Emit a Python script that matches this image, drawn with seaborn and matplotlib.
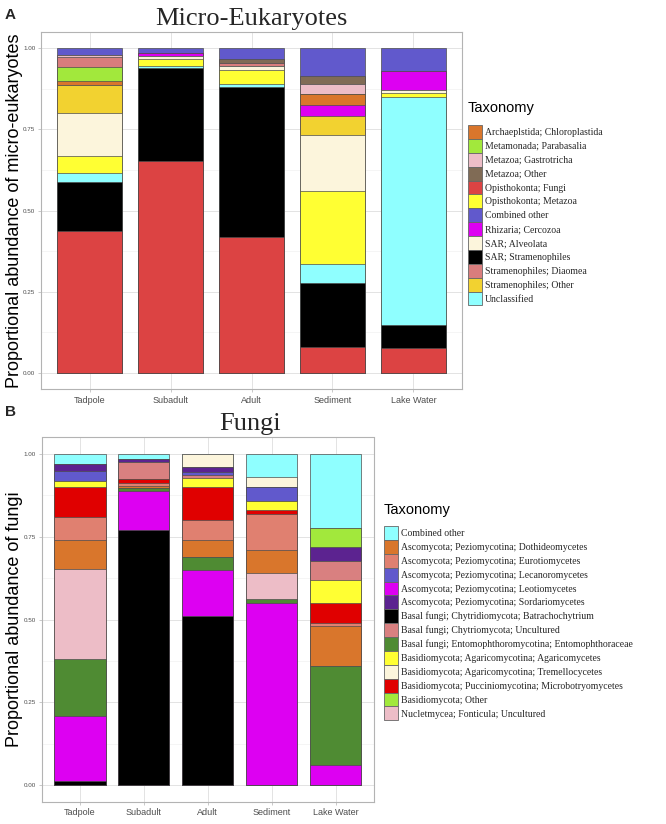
import matplotlib
matplotlib.use('Agg')
import matplotlib.pyplot as plt
from matplotlib.patches import Patch
import seaborn as sns

SAMPLES=['Tadpole','Subadult','Adult','Sediment','Lake Water']

# ---- micro-eukaryotes, one list per taxon (Tadpole..Lake Water) ----
EUK_FUNGI=[0.437,0.652,0.420,0.081,0.076]
EUK_SAR_STRAM=[0.152,0.288,0.459,0.197,0.071]
EUK_UNCLASSIFIED=[0.025,0.005,0.010,0.056,0.703]
EUK_OPI_METAZOA=[0.053,0.020,0.044,0.227,0.012]
EUK_ALVEOLATA=[0.133,0.010,0.013,0.171,0.009]
EUK_STRAM_OTHER=[0.085,0.0,0.0,0.060,0.0]
EUK_RHIZARIA=[0.0,0.011,0.0,0.034,0.058]
EUK_ARCHAEPL=[0.012,0.0,0.0,0.033,0.0]
EUK_METAMONADA=[0.046,0.0,0.0,0.0,0.0]
EUK_DIAOMEA=[0.030,0.0,0.009,0.0,0.0]
EUK_GASTROTRICHA=[0.006,0.0,0.0,0.030,0.0]
EUK_METAZOA_OTHER=[0.0,0.0,0.010,0.026,0.0]
EUK_COMBINED=[0.021,0.014,0.035,0.085,0.071]

# ---- fungi ----
FUN_BATRACHO=[0.012,0.770,0.512,0.0,0.0]
FUN_LEOTIO=[0.197,0.119,0.138,0.549,0.060]
FUN_ENTOMO=[0.172,0.007,0.040,0.012,0.300]
FUN_NUCLET=[0.271,0.0,0.0,0.079,0.0]
FUN_DOTHIDEO=[0.089,0.008,0.051,0.070,0.121]
FUN_EUROTIO=[0.070,0.008,0.059,0.109,0.009]
FUN_MICROBOT=[0.088,0.014,0.100,0.012,0.059]
FUN_AGARICO=[0.020,0.0,0.029,0.028,0.070]
FUN_CHYTRIO=[0.0,0.050,0.009,0.0,0.059]
FUN_LECANORO=[0.031,0.0,0.008,0.040,0.0]
FUN_SORDARIO=[0.020,0.010,0.014,0.0,0.042]
FUN_BASID_OTHER=[0.0,0.0,0.0,0.0,0.058]
FUN_TREMELLO=[0.0,0.0,0.040,0.031,0.0]
FUN_COMBINED=[0.030,0.014,0.0,0.070,0.222]

EUK_LEGEND=['Archaeplstida; Chloroplastida','Metamonada; Parabasalia','Metazoa; Gastrotricha',
            'Metazoa; Other','Opisthokonta; Fungi','Opisthokonta; Metazoa','Combined other',
            'Rhizaria; Cercozoa','SAR; Alveolata','SAR; Stramenophiles','Stramenophiles; Diaomea',
            'Stramenophiles; Other','Unclassified']
FUN_LEGEND=['Combined other','Ascomycota; Peziomycotina; Dothideomycetes',
            'Ascomycota; Peziomycotina; Eurotiomycetes','Ascomycota; Peziomycotina; Lecanoromycetes',
            'Ascomycota; Peziomycotina; Leotiomycetes','Ascomycota; Peziomycotina; Sordariomycetes',
            'Basal fungi; Chytridiomycota; Batrachochytrium','Basal fungi; Chytriomycota; Uncultured',
            'Basal fungi; Entomophthoromycotina; Entomophthoraceae',
            'Basidiomycota; Agaricomycotina; Agaricomycetes','Basidiomycota; Agaricomycotina; Tremellocycetes',
            'Basidiomycota; Pucciniomycotina; Microbotryomycetes','Basidiomycota; Other',
            'Nucletmycea; Fonticula; Uncultured']

EUK_STACK=[('Opisthokonta; Fungi',EUK_FUNGI),('SAR; Stramenophiles',EUK_SAR_STRAM),
           ('Unclassified',EUK_UNCLASSIFIED),('Opisthokonta; Metazoa',EUK_OPI_METAZOA),
           ('SAR; Alveolata',EUK_ALVEOLATA),('Stramenophiles; Other',EUK_STRAM_OTHER),
           ('Rhizaria; Cercozoa',EUK_RHIZARIA),('Archaeplstida; Chloroplastida',EUK_ARCHAEPL),
           ('Metamonada; Parabasalia',EUK_METAMONADA),('Stramenophiles; Diaomea',EUK_DIAOMEA),
           ('Metazoa; Gastrotricha',EUK_GASTROTRICHA),('Metazoa; Other',EUK_METAZOA_OTHER),
           ('Combined other',EUK_COMBINED)]
FUN_STACK=[('Basal fungi; Chytridiomycota; Batrachochytrium',FUN_BATRACHO),
           ('Ascomycota; Peziomycotina; Leotiomycetes',FUN_LEOTIO),
           ('Basal fungi; Entomophthoromycotina; Entomophthoraceae',FUN_ENTOMO),
           ('Nucletmycea; Fonticula; Uncultured',FUN_NUCLET),
           ('Ascomycota; Peziomycotina; Dothideomycetes',FUN_DOTHIDEO),
           ('Ascomycota; Peziomycotina; Eurotiomycetes',FUN_EUROTIO),
           ('Basidiomycota; Pucciniomycotina; Microbotryomycetes',FUN_MICROBOT),
           ('Basidiomycota; Agaricomycotina; Agaricomycetes',FUN_AGARICO),
           ('Basal fungi; Chytriomycota; Uncultured',FUN_CHYTRIO),
           ('Ascomycota; Peziomycotina; Lecanoromycetes',FUN_LECANORO),
           ('Ascomycota; Peziomycotina; Sordariomycetes',FUN_SORDARIO),
           ('Basidiomycota; Other',FUN_BASID_OTHER),
           ('Basidiomycota; Agaricomycotina; Tremellocycetes',FUN_TREMELLO),
           ('Combined other',FUN_COMBINED)]

EUK_COLORS={'Archaeplstida; Chloroplastida':'#D9762C','Metamonada; Parabasalia':'#A2E83C',
            'Metazoa; Gastrotricha':'#EDBDC7','Metazoa; Other':'#806B55','Opisthokonta; Fungi':'#DC4343',
            'Opisthokonta; Metazoa':'#FFFF33','Combined other':'#6159CC','Rhizaria; Cercozoa':'#DD00F2',
            'SAR; Alveolata':'#FCF5DC','SAR; Stramenophiles':'#000000','Stramenophiles; Diaomea':'#D97D7D',
            'Stramenophiles; Other':'#F2D230','Unclassified':'#8FFFFF'}
FUN_COLORS={'Combined other':'#8FFFFF','Ascomycota; Peziomycotina; Dothideomycetes':'#D9762C',
            'Ascomycota; Peziomycotina; Eurotiomycetes':'#E08070',
            'Ascomycota; Peziomycotina; Lecanoromycetes':'#6159CC',
            'Ascomycota; Peziomycotina; Leotiomycetes':'#DD00F2',
            'Ascomycota; Peziomycotina; Sordariomycetes':'#5C2390',
            'Basal fungi; Chytridiomycota; Batrachochytrium':'#000000',
            'Basal fungi; Chytriomycota; Uncultured':'#D98080',
            'Basal fungi; Entomophthoromycotina; Entomophthoraceae':'#4F8B33',
            'Basidiomycota; Agaricomycotina; Agaricomycetes':'#FFFF33',
            'Basidiomycota; Agaricomycotina; Tremellocycetes':'#FCF5DC',
            'Basidiomycota; Pucciniomycotina; Microbotryomycetes':'#E00000',
            'Basidiomycota; Other':'#A2E83C','Nucletmycea; Fonticula; Uncultured':'#EDBDC7'}

EDGE='#4d4d4d'
W,H=666,824


def stacked_bars(ax, stack, colors):
    # cumulative totals, drawn top layer first so lower layers cover them
    totals=[0.0]*len(SAMPLES)
    cums=[]
    for name, vals in stack:
        totals=[t+v for t,v in zip(totals,vals)]
        cums.append((name,totals))
    for name, cum in reversed(cums):
        sns.barplot(x=SAMPLES, y=cum, order=SAMPLES, color=colors[name], saturation=1,
                    width=0.8, edgecolor=EDGE, linewidth=0.5, errorbar=None, ax=ax)


def style_axes(ax, ylabel, label_x):
    ax.set_xlim(-0.6,4.6)
    ax.set_ylim(-0.05,1.05)
    ax.set_yticks([0,0.25,0.5,0.75,1.0])
    ax.set_yticklabels(['0.00','0.25','0.50','0.75','1.00'])
    ax.set_yticks([0.125,0.375,0.625,0.875],minor=True)
    ax.set_facecolor('white')
    ax.set_axisbelow(True)
    ax.grid(True,which='major',color='#dedede',linewidth=0.6)
    ax.grid(True,which='minor',axis='y',color='#eeeeee',linewidth=0.4)
    ax.grid(False,which='minor',axis='x')
    for s in ax.spines.values():
        s.set_visible(True)
        s.set_color('#b3b3b3')
        s.set_linewidth(0.8)
    ax.tick_params(axis='y',which='major',labelsize=4.5,labelcolor='#4d4d4d',color='#b3b3b3',
                   length=2.5,width=0.5,pad=1.5,left=True)
    ax.tick_params(axis='x',which='major',labelsize=6.5,labelcolor='#4d4d4d',color='#b3b3b3',
                   length=2.5,width=0.5,pad=2,bottom=True)
    ax.tick_params(which='minor',length=0)
    ax.set_xlabel('')
    ax.set_ylabel(ylabel,fontsize=13,color='black')
    ax.yaxis.set_label_coords(label_x,0.5)


def add_legend(fig, colors, labels, x_px, title_y_px, top_px):
    fig.text(x_px/W,1-title_y_px/H,'Taxonomy',fontsize=10.5,va='center',ha='left',color='black')
    handles=[Patch(facecolor=colors[l],edgecolor='#666666',linewidth=0.6) for l in labels]
    fig.legend(handles,labels,loc='upper left',bbox_to_anchor=(x_px/W,1-top_px/H),
               bbox_transform=fig.transFigure,frameon=False,borderpad=0,borderaxespad=0,
               handlelength=1.44,handleheight=1.82,labelspacing=0,handletextpad=0.3,
               prop={'family':'Liberation Serif','size':7})


def figure():
    sns.set_theme(style='whitegrid')
    plt.rcParams['font.family']=['Liberation Sans','DejaVu Sans']
    fig=plt.figure(figsize=(W/100,H/100),dpi=100)
    fig.patch.set_facecolor('white')

    ax1=fig.add_axes([41/W,1-389.25/H,421/W,357.5/H])
    stacked_bars(ax1,EUK_STACK,EUK_COLORS)
    style_axes(ax1,'Proportional abundance of micro-eukaryotes',(23-41)/421)
    ax1.set_title('Micro-Eukaryotes',family='Liberation Serif',fontsize=19,pad=5)

    ax2=fig.add_axes([41.6/W,1-801.5/H,332.4/W,364/H])
    stacked_bars(ax2,FUN_STACK,FUN_COLORS)
    style_axes(ax2,'Proportional abundance of fungi',(23-41.6)/332.4)
    fig.text(250/W,1-424/H,'Fungi',family='Liberation Serif',fontsize=19,ha='center',va='center')

    fig.text(5/W,1-15/H,'A',fontsize=11,fontweight='bold',va='center')
    fig.text(5/W,1-412/H,'B',fontsize=11,fontweight='bold',va='center')

    add_legend(fig,EUK_COLORS,EUK_LEGEND,468,108,125)
    add_legend(fig,FUN_COLORS,FUN_LEGEND,384,510,526)

    fig.savefig('out.png',dpi=100)


if __name__ == "__main__":
    figure()
